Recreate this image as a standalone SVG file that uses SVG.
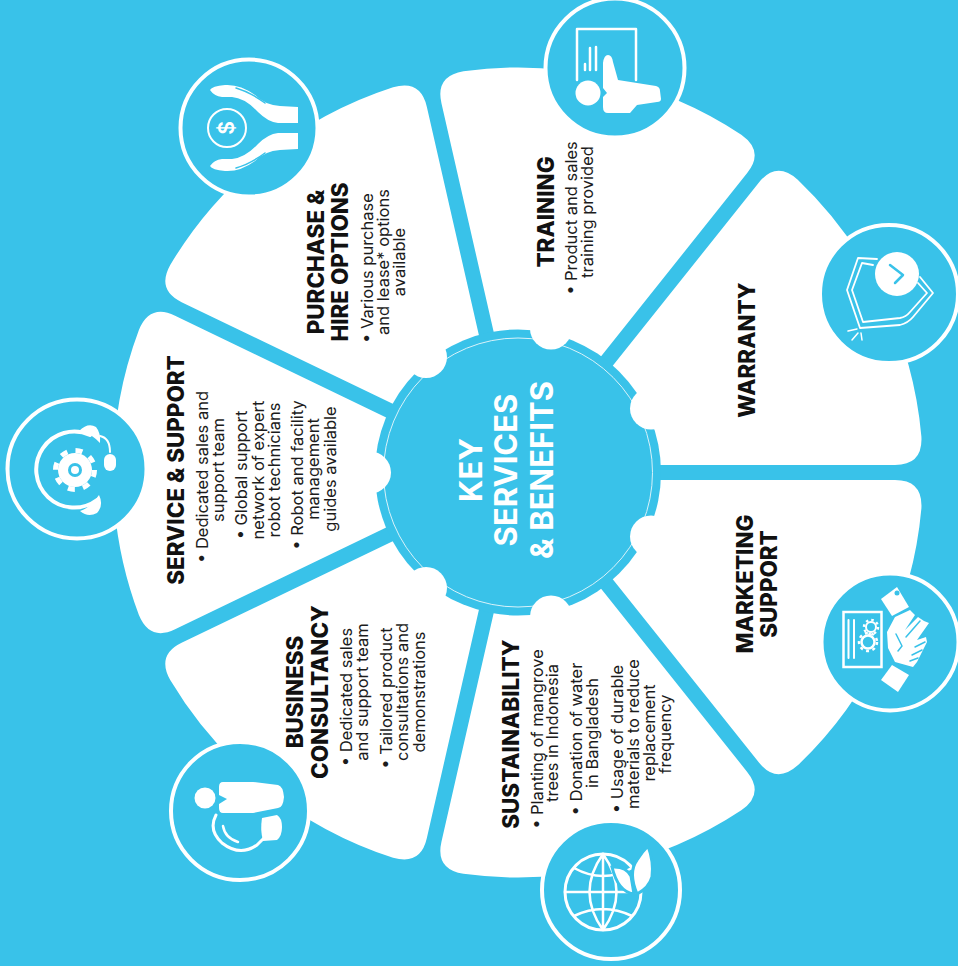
<svg xmlns="http://www.w3.org/2000/svg" width="958" height="966" viewBox="0 0 958 966">
<style>
text{font-family:"Inter","Liberation Sans",sans-serif;text-anchor:middle;fill:#111}
.t{font-size:22.400px;font-weight:800}
.b{font-size:16.500px;font-weight:400;fill:#1c1c1c}
.c{font-size:31px;font-weight:700;fill:#fff}
.disc{fill:#39c2e9;stroke:#fff;stroke-width:4}
.w{fill:#fff}
.l{fill:none;stroke:#fff;stroke-linecap:round;stroke-linejoin:round}
.k{fill:none;stroke:#39c2e9;stroke-linecap:round;stroke-linejoin:round}
.bl{fill:#39c2e9}
</style>
<defs>
<path id="petal" d="M120.400 49.600L342.900 156.800Q368.200 169 379.100 142.500A405 405 0 0 0 379.100 -142.500Q368.200 -169 342.900 -156.800L120.400 -49.600Z" fill="#fff"/>
</defs>
<rect width="958" height="966" fill="#39c2e9"/>
<g id="training">
<use href="#petal" transform="translate(518 472.500) rotate(-77.140)"/>
<circle class="disc" cx="615" cy="68" r="69.500"/>
<path class="l" stroke-width="2.500" d="M577 80V29H636V80"/>
<path class="l" stroke-width="2.500" d="M585 70V64M590 70V48M596 70V47"/>
<circle class="w" cx="588" cy="93" r="12.500"/>
<path class="w" d="M603 63Q604 55 608 55Q612 55 613 62L618 80L656 86Q660 87 660 91L661 99Q661 102 657 102L637 105L630 113H608Q603 113 603 107V97L607 93L603 88Z"/>
<text class="t" transform="translate(554 212) rotate(-90)">TRAINING</text>
<text class="b" transform="translate(577 218) rotate(-90)">• Product and sales</text>
<text class="b" transform="translate(593 212) rotate(-90)">training provided</text>
</g>
<g id="warranty">
<use href="#petal" transform="translate(518 472.500) rotate(-25.710)"/>
<circle class="disc" cx="889" cy="294" r="69"/>
<circle class="w" cx="897" cy="274" r="22"/>
<path class="k" stroke-width="2.500" d="M890 265L903 275L895 283"/>
<path class="l" stroke-width="1.800" d="M877 259L858 258L847 290L860 328L900 325Q908 323 913 317L933 293L920 277"/>
<path class="l" stroke-width="1.800" d="M873 265L862 263L852 290L863 322L900 318Q906 317 910 312L927 293L918 283"/>
<path class="l" stroke-width="1.500" d="M848 331L857 329M852 340L858 333M862 340L861 333"/>
<text class="t" transform="translate(755 350) rotate(-90)">WARRANTY</text>
</g>
<g id="marketing">
<use href="#petal" transform="translate(518 472.500) rotate(25.710)"/>
<circle class="disc" cx="890" cy="642" r="68.500"/>
<rect x="843.500" y="612" width="38" height="55" fill="none" stroke="#fff" stroke-width="2.500"/>
<path class="l" stroke-width="2" d="M848.500 620V658M854 620V658"/>
<circle cx="871" cy="627" r="5" class="l" stroke-width="2"/>
<circle cx="871" cy="627" r="7" fill="none" stroke="#fff" stroke-width="2.500" stroke-dasharray="2.500 3"/>
<circle cx="868" cy="642" r="6.500" class="l" stroke-width="2.500"/>
<circle cx="868" cy="642" r="9" fill="none" stroke="#fff" stroke-width="2.500" stroke-dasharray="3 3.500"/>
<path class="w" d="M881 599L897 587L909 607L892 616Z"/>
<circle class="bl" cx="897" cy="593" r="2.500"/>
<path class="w" d="M887 632L895 617L910 610L915 615L905 630L918 617L924 621L929 623L917 640L926 637L927 642L923 650L917 662L913 667L895 662L888 648Z"/>
<path class="k" stroke-width="1.500" d="M896 634L902 646L898 651M906 637L920 621M915 647L925 642M912 655L922 650M910 661L918 658"/>
<path class="w" d="M892 665L909 675L898 692L881 680Z"/>
<text class="t" transform="translate(753 584) rotate(-90)">MARKETING</text>
<text class="t" transform="translate(777 584) rotate(-90)">SUPPORT</text>
</g>
<g id="sustainability">
<use href="#petal" transform="translate(518 472.500) rotate(77.140)"/>
<circle class="disc" cx="611" cy="890" r="69"/>
<circle class="l" stroke-width="3" cx="603" cy="892" r="38"/>
<path class="l" stroke-width="2.500" d="M603 854V930M565 892H641M603 854Q576 892 603 930M603 854Q630 892 603 930M574 868Q603 884 632 868M574 916Q603 902 632 916"/>
<path class="w" style="stroke:#39c2e9;stroke-width:3" d="M637 894Q628 872 637 860Q642 852 648 846Q654 862 652 877Q649 888 637 894Z"/>
<path class="w" style="stroke:#39c2e9;stroke-width:3" d="M612 867Q626 866 631 876L634 894Q618 892 612 867Z"/>
<text class="t" transform="translate(519 734) rotate(-90)">SUSTAINABILITY</text>
<text class="b" transform="translate(543 739) rotate(-90)">• Planting of mangrove</text>
<text class="b" transform="translate(558 733) rotate(-90)">trees in Indonesia</text>
<text class="b" transform="translate(582 739) rotate(-90)">• Donation of water</text>
<text class="b" transform="translate(598 733) rotate(-90)">in Bangladesh</text>
<text class="b" transform="translate(623 739) rotate(-90)">• Usage of durable</text>
<text class="b" transform="translate(639 734) rotate(-90)">materials to reduce</text>
<text class="b" transform="translate(655 733) rotate(-90)">replacement</text>
<text class="b" transform="translate(671 734) rotate(-90)">frequency</text>
</g>
<g id="business">
<use href="#petal" transform="translate(518 472.500) rotate(128.570)"/>
<circle class="disc" cx="240" cy="811" r="69"/>
<circle class="w" cx="205" cy="798" r="10.500"/>
<path class="w" d="M223 782H253L278 785Q283 786 284 797Q283 808 278 808L253 813H223Q219 813 219 808V804L227 799L219 795V787Q219 782 223 782Z"/>
<path class="l" stroke-width="3" d="M216 815Q208 830 222 843Q240 857 257 845L264 838"/>
<path class="l" stroke-width="2.500" d="M223 826Q225 838 238 842"/>
<path class="w" d="M262 818L277 815Q282 818 282 827Q282 836 277 840L263 841Q260 830 262 818Z"/>
<text class="t" transform="translate(303 692) rotate(-90)">BUSINESS</text>
<text class="t" transform="translate(328 692) rotate(-90)">CONSULTANCY</text>
<text class="b" transform="translate(352 697) rotate(-90)">• Dedicated sales</text>
<text class="b" transform="translate(368 692) rotate(-90)">and support team</text>
<text class="b" transform="translate(392 698) rotate(-90)">• Tailored product</text>
<text class="b" transform="translate(408 692) rotate(-90)">consultations and</text>
<text class="b" transform="translate(425 692) rotate(-90)">demonstrations</text>
</g>
<g id="service">
<use href="#petal" transform="translate(518 472.500) rotate(180)"/>
<circle class="disc" cx="77" cy="469" r="69.500"/>
<circle class="w" cx="75" cy="470" r="17"/>
<circle cx="75" cy="470" r="19.500" fill="none" stroke="#fff" stroke-width="5" stroke-dasharray="7 8.300"/>
<circle class="bl" cx="75" cy="470" r="7"/>
<circle class="w" cx="75" cy="470" r="4"/>
<path class="l" stroke-width="4" d="M90 435A38 38 0 1 0 97 500"/>
<path class="w" d="M79 431Q88 422 96 427Q101 433 100 443Q92 434 79 431Z"/>
<path class="w" d="M80 511Q90 508 99 495Q104 505 97 513Q88 518 80 511Z"/>
<path class="l" stroke-width="2" d="M100 436Q110 438 110 452"/>
<rect class="w" x="104" y="454" width="12" height="17" rx="6"/>
<text class="t" transform="translate(184 470) rotate(-90)">SERVICE &amp; SUPPORT</text>
<text class="b" transform="translate(208 477) rotate(-90)">• Dedicated sales and</text>
<text class="b" transform="translate(224 470) rotate(-90)">support team</text>
<text class="b" transform="translate(247 475) rotate(-90)">• Global support</text>
<text class="b" transform="translate(264 470) rotate(-90)">network of expert</text>
<text class="b" transform="translate(280 470) rotate(-90)">robot technicians</text>
<text class="b" transform="translate(303 475) rotate(-90)">• Robot and facility</text>
<text class="b" transform="translate(319 469) rotate(-90)">management</text>
<text class="b" transform="translate(336 469) rotate(-90)">guides available</text>
</g>
<g id="purchase">
<use href="#petal" transform="translate(518 472.500) rotate(-128.570)"/>
<circle class="disc" cx="249" cy="128" r="68.500"/>
<circle class="l" stroke-width="2" cx="227" cy="128" r="19"/>
<text transform="translate(234 128) rotate(-90)" style="font-size:21px;font-weight:600;fill:#fff">$</text>
<path class="w" d="M210 90Q212 86 225 85Q240 84 255 95Q265 105 280 106L298 107V123L278 123Q268 122 258 112Q245 98 232 97L222 97Q214 96 210 90Z"/>
<path class="w" d="M210 166Q212 170 225 171Q240 172 255 161Q265 151 280 150L298 149V133L278 133Q268 134 258 144Q245 158 232 159L222 159Q214 160 210 166Z"/>
<path class="k" stroke-width="1.500" d="M236 88Q250 92 265 103M236 168Q250 164 265 153"/>
<text class="t" transform="translate(324 262) rotate(-90)">PURCHASE &amp;</text>
<text class="t" transform="translate(348 262) rotate(-90)">HIRE OPTIONS</text>
<text class="b" transform="translate(373 268) rotate(-90)">• Various purchase</text>
<text class="b" transform="translate(389 262) rotate(-90)">and lease* options</text>
<text class="b" transform="translate(405 262) rotate(-90)">available</text>
</g>
<g id="hub">
<circle cx="518" cy="472.500" r="143" fill="#39c2e9"/>
<circle cx="518" cy="472.500" r="134.500" fill="none" stroke="#d8f2fa" stroke-width="1"/>
<g class="w">
<circle cx="651" cy="408.500" r="21"/><circle cx="551" cy="328.500" r="21"/><circle cx="426" cy="357" r="21"/><circle cx="370" cy="472.500" r="21"/><circle cx="426" cy="588" r="21"/><circle cx="551" cy="616.500" r="21"/><circle cx="651" cy="536.500" r="21"/>
</g>
<text class="c" transform="translate(482 470) rotate(-90)">KEY</text>
<text class="c" transform="translate(517 470) rotate(-90)">SERVICES</text>
<text class="c" transform="translate(553 470) rotate(-90)">&amp; BENEFITS</text>
</g>
</svg>
